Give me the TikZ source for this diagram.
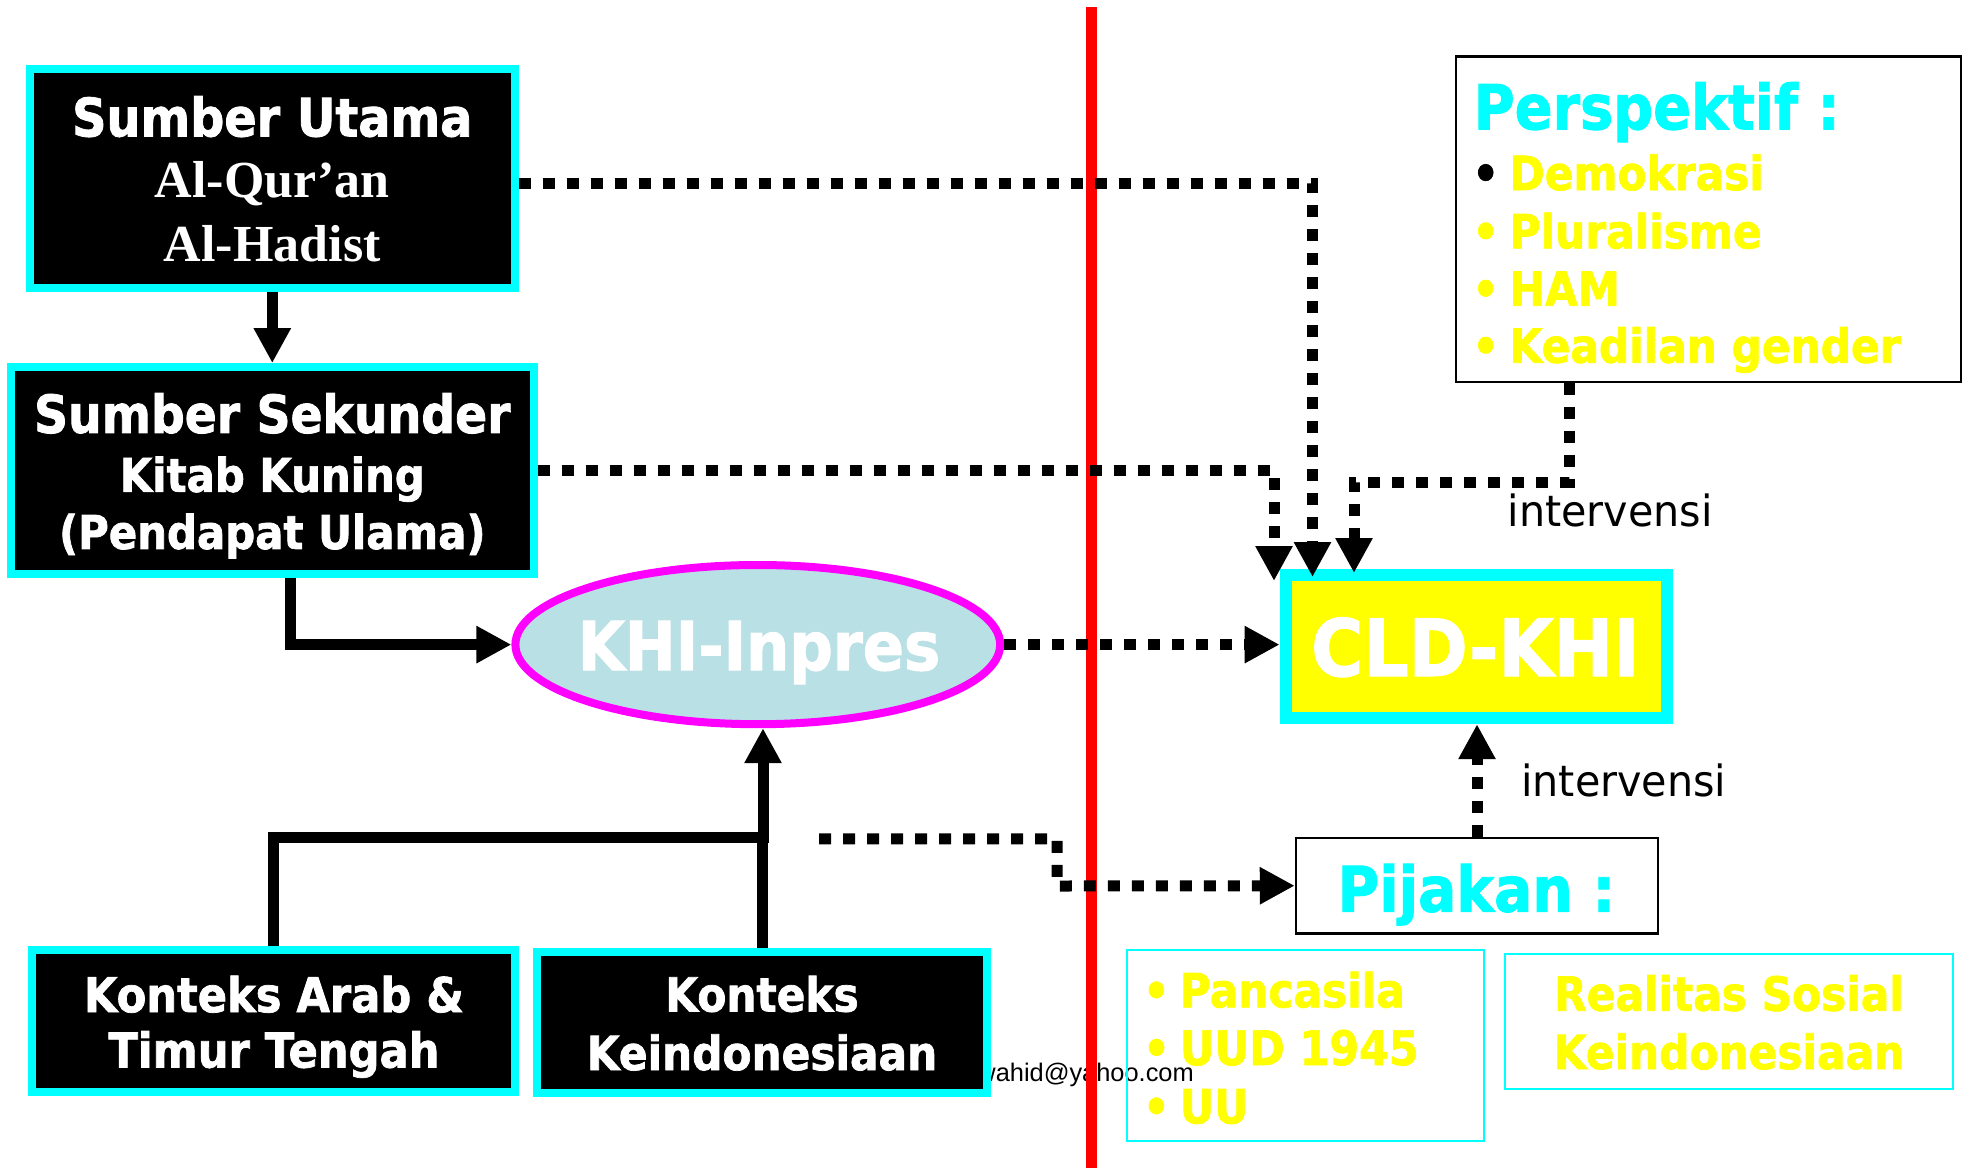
\documentclass[tikz,border=0pt]{standalone}
\usepackage{fontspec}
\usetikzlibrary{arrows.meta,shapes.geometric}
\newfontfamily\tahfont[FakeStretch=0.9, BoldFeatures={FakeBold=1.5}]{DejaVu Sans}
\newfontfamily\tahreg[FakeStretch=0.96]{DejaVu Sans}
\newfontfamily\timesfont{Liberation Serif}
\newfontfamily\arialfont{Liberation Sans}
\newcommand\tahB[1]{\tahfont\bfseries\fontsize{#1}{#1}\selectfont}
\newcommand\tahR[1]{\tahreg\fontsize{#1}{#1}\selectfont}
\newcommand\tmsB[1]{\timesfont\bfseries\fontsize{#1}{#1}\selectfont}
\definecolor{cyanbd}{RGB}{0,255,255}
\definecolor{magbd}{RGB}{255,0,255}
\definecolor{yelw}{RGB}{255,255,0}
\definecolor{khifill}{RGB}{185,224,228}
\definecolor{redln}{RGB}{255,0,0}
\tikzset{
  >={Triangle[length=35pt,width=35pt]},
  srcbox/.style={draw=cyanbd, fill=black, line width=8pt, inner sep=0pt},
  thinbox/.style={draw=black, line width=2.5pt, inner sep=0pt},
  cyanbox/.style={draw=cyanbd, line width=2pt, inner sep=0pt},
  txt/.style={anchor=base, inner sep=0pt},
  solidline/.style={line width=11pt},
  dotline/.style={line width=11pt, dash pattern=on 12pt off 12pt},
}
\begin{document}
\begin{tikzpicture}[x=1pt,y=-1pt]
\path[use as bounding box, fill=white] (0,0) rectangle (1967,1168);
% email sits behind the box
\node[anchor=base east, inner sep=0pt, font=\arialfont\fontsize{25.4}{25.4}\selectfont] (email) at (1194,1081.7) {wahid@yahoo.com};
\draw[redln, line width=11pt] (1091.3,7) -- (1091.3,1168);
% left column
\node[srcbox, minimum width=484.5pt, minimum height=218.5pt] (utama) at (272.3,178.3) {};
\node[txt, text=white, font=\tahB{53}] (utamaT) at (272.3,136.4) {Sumber Utama};
\node[txt, text=white, font=\tmsB{52}] (quran) at (272.3,197.1) {Al-Qur’an};
\node[txt, text=white, font=\tmsB{52}] (hadist) at (272.3,261.4) {Al-Hadist};
\node[srcbox, minimum width=522.5pt, minimum height=206.5pt] (sekunder) at (272.3,470.3) {};
\node[txt, text=white, font=\tahB{52.5}] (sekT) at (272.3,432.9) {Sumber Sekunder};
\node[txt, text=white, font=\tahB{46.5}] (kitab) at (272.3,491.8) {Kitab Kuning};
\node[txt, text=white, font=\tahB{46.5}] (ulama) at (272.3,548.9) {(Pendapat Ulama)};
\node[ellipse, draw=magbd, fill=khifill, line width=8pt, minimum width=484.8pt, minimum height=159.2pt, inner sep=0pt] (khi) at (757.8,644.6) {};
\node[txt, text=white, font=\tahB{67.5}] (khiT) at (759,670.1) {KHI-Inpres};
\node[srcbox, minimum width=483pt, minimum height=142pt] (arab) at (273,1021) {};
\node[txt, text=white, font=\tahB{48}] (arabA) at (274,1012.1) {Konteks Arab \&};
\node[txt, text=white, font=\tahB{48}] (arabB) at (274,1067.5) {Timur Tengah};
\node[srcbox, minimum width=450pt, minimum height=141.4pt] (indo) at (762,1022.3) {};
\node[txt, text=white, font=\tahB{47}] (indoA) at (762,1011.5) {Konteks};
\node[txt, text=white, font=\tahB{47}] (indoB) at (762,1070) {Keindonesiaan};
% right column
\node[draw=cyanbd, fill=yelw, line width=12pt, minimum width=381.4pt, minimum height=143.2pt, inner sep=0pt] (cld) at (1476.3,646.6) {};
\node[txt, text=white, font=\tahB{79}] (cldT) at (1475.4,676) {CLD-KHI};
\node[thinbox, minimum width=505pt, minimum height=325.8pt] (persp) at (1708.6,219.2) {};
\node[txt, anchor=base west, text=cyanbd, font=\tahB{62}] (perspT) at (1473.6,129.3) {Perspektif :};
\node[txt, anchor=base west, text=yelw, font=\tahB{47}] (demo) at (1472,190) {\makebox[37.5pt][l]{\color{black}•}Demokrasi};
\node[txt, anchor=base west, text=yelw, font=\tahB{47}] (plural) at (1472,248.3) {\makebox[37.5pt][l]{•}Pluralisme};
\node[txt, anchor=base west, text=yelw, font=\tahB{47}] (ham) at (1472,305.7) {\makebox[37.5pt][l]{•}HAM};
\node[txt, anchor=base west, text=yelw, font=\tahB{47}] (gender) at (1472,362.7) {\makebox[37.5pt][l]{•}Keadilan gender};
\node[thinbox, minimum width=362pt, minimum height=95.5pt] (pijakan) at (1477,885.7) {};
\node[txt, text=cyanbd, font=\tahB{63}] (pijakanT) at (1476.4,911.7) {Pijakan :};
\node[cyanbox, minimum width=357.4pt, minimum height=191.3pt] (dasar) at (1305.7,1045.7) {};
\node[txt, anchor=base west, text=yelw, font=\tahB{47}] (panca) at (1142.7,1007.3) {\makebox[37pt][l]{•}Pancasila};
\node[txt, anchor=base west, text=yelw, font=\tahB{47.5}] (uud) at (1142.7,1065) {\makebox[37pt][l]{•}UUD 1945};
\node[txt, anchor=base west, text=yelw, font=\tahB{47}] (uu) at (1142.7,1123.3) {\makebox[37pt][l]{•}UU};
\node[cyanbox, minimum width=448.7pt, minimum height=135.3pt] (realitas) at (1729,1021.4) {};
\node[txt, text=yelw, font=\tahB{47}] (realA) at (1729,1010.7) {Realitas Sosial};
\node[txt, text=yelw, font=\tahB{47}] (realB) at (1729,1069) {Keindonesiaan};
\node[txt, anchor=base west, font=\tahR{43}] (interA) at (1507.5,526.7) {intervensi};
\node[txt, anchor=base west, font=\tahR{43}] (interB) at (1521,796.7) {intervensi};
% connectors
\coordinate (junc) at (763,837);
\coordinate (kstart) at (819,838.8);
\draw[solidline,->] (utama) -- (sekunder);
\draw[solidline,->] (sekunder.south -| 290,0) |- (khi.west);
\draw[solidline] (arab.north) |- (junc);
\draw[solidline] (indo.north) -- (indo.north |- junc);
\draw[solidline,->] ([yshift=-5.5pt]junc) -- (junc |- khi.south);
\draw[dotline,->] (khi.east) -- (khi.east -| cld.west);
\draw[dotline,->] (sekunder.east) -| (1274,581);
\draw[dotline,->] ([yshift=-4.7pt]utama.east) -| (1312.5,577);
\draw[dotline,->] (persp.south -| 1569,0) |- (1354,482.5) -- (1354,573);
\draw[dotline,->] (pijakan.north) -- (pijakan.north |- cld.south);
\draw[dotline,->] (kstart) -| (1057,886) -- (pijakan.west);
\end{tikzpicture}
\end{document}
